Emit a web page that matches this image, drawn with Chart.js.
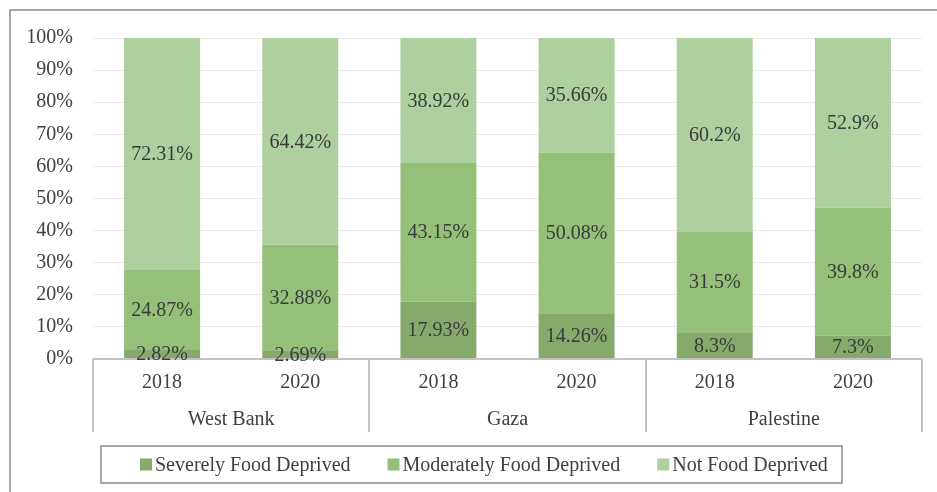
<!DOCTYPE html>
<html>
<head>
<meta charset="utf-8">
<script src="https://cdn.jsdelivr.net/npm/chart.js@4.4.0/dist/chart.umd.min.js"></script>
<style>
  html, body { margin: 0; padding: 0; background: #fff; }
  #wrap { width: 937px; height: 492px; position: relative; }
</style>
</head>
<body>
<div id="wrap"><canvas id="chart" width="937" height="492"></canvas></div>
<script>
// data
const years = ["2018", "2020", "2018", "2020", "2018", "2020"];
const regions = ["West Bank", "Gaza", "Palestine"];
const severely = [2.82, 2.69, 17.93, 14.26, 8.3, 7.3];
const moderately = [24.87, 32.88, 43.15, 50.08, 31.5, 39.8];
const notDeprived = [72.31, 64.42, 38.92, 35.66, 60.2, 52.9];
const seriesNames = ["Severely Food Deprived", "Moderately Food Deprived", "Not Food Deprived"];
const colors = ["#86aa6c", "#94c079", "#aecf9e"];

const FONT = "'Liberation Serif', 'Times New Roman', serif";
const TEXT = "#404040";
const FSIZE = 20;

const overlay = {
  id: "overlay",
  afterDraw(chart) {
    const ctx = chart.ctx;
    const xs = chart.scales.x, ys = chart.scales.y, area = chart.chartArea;
    const y0 = ys.getPixelForValue(0);
    ctx.save();

    // outer frame (only left/top visible)
    ctx.strokeStyle = "#8a8a8a";
    ctx.lineWidth = 1.5;
    ctx.strokeRect(10, 10, 1000, 1000);

    // axis line + group separators
    ctx.strokeStyle = "#c3c3c3";
    ctx.lineWidth = 2;
    ctx.beginPath();
    ctx.moveTo(area.left, y0);
    ctx.lineTo(area.right, y0);
    [-0.5, 1.5, 3.5, 5.5].forEach(v => {
      const px = Math.round(xs.getPixelForValue(v));
      ctx.moveTo(px, y0);
      ctx.lineTo(px, y0 + 73);
    });
    ctx.stroke();

    // region labels
    ctx.fillStyle = TEXT;
    ctx.font = FSIZE + "px " + FONT;
    ctx.textAlign = "center";
    ctx.textBaseline = "middle";
    regions.forEach((r, i) => {
      ctx.fillText(r, xs.getPixelForValue(i * 2 + 0.5), y0 + 61);
    });

    // value labels in the middle of each segment
    ctx.fillStyle = "#3a3a3a";
    chart.data.datasets.forEach((ds, di) => {
      const meta = chart.getDatasetMeta(di);
      meta.data.forEach((bar, i) => {
        const p = bar.getProps(["x", "y", "base"], true);
        ctx.fillText(ds.data[i] + "%", p.x, (p.y + p.base) / 2 + 1);
      });
    });

    // legend in a box
    const box = { left: 101, top: 446, right: 842, bottom: 483 };
    ctx.strokeStyle = "#8a8a8a";
    ctx.lineWidth = 1.5;
    ctx.strokeRect(box.left, box.top, box.right - box.left, box.bottom - box.top);
    const sq = 12, gapTxt = 3, gapItem = 37;
    const widths = seriesNames.map(n => sq + gapTxt + ctx.measureText(n).width);
    let lx = box.left + 39;
    const ly = (box.top + box.bottom) / 2;
    ctx.textAlign = "left";
    seriesNames.forEach((n, i) => {
      ctx.fillStyle = colors[i];
      ctx.fillRect(lx, ly - sq / 2, sq, sq);
      ctx.fillStyle = TEXT;
      ctx.fillText(n, lx + sq + gapTxt, ly + 1);
      lx += widths[i] + gapItem;
    });
    ctx.restore();
  }
};

const ctx = document.getElementById("chart");
new Chart(ctx, {
  type: "bar",
  data: {
    labels: years,
    datasets: [
      { label: seriesNames[0], data: severely, backgroundColor: colors[0] },
      { label: seriesNames[1], data: moderately, backgroundColor: colors[1] },
      { label: seriesNames[2], data: notDeprived, backgroundColor: colors[2] }
    ]
  },
  options: {
    responsive: false,
    animation: false,
    layout: { padding: { top: 38, right: 15, left: 0, bottom: 0 } },
    datasets: { bar: { categoryPercentage: 1, barPercentage: 0.55 } },
    plugins: { legend: { display: false }, tooltip: { enabled: false } },
    scales: {
      x: {
        stacked: true,
        grid: { display: false, drawTicks: false },
        border: { display: false },
        ticks: { color: TEXT, font: { family: FONT, size: FSIZE }, padding: 12, maxRotation: 0 },
        afterFit(s) { s.height = 133; }
      },
      y: {
        stacked: true,
        min: 0,
        max: 100,
        grid: { color: "#ebebeb", drawTicks: false },
        border: { display: false },
        ticks: {
          stepSize: 10,
          color: TEXT,
          font: { family: FONT, size: FSIZE },
          padding: 20,
          callback: v => v + "%"
        },
        afterFit(s) { s.width = 93; }
      }
    }
  },
  plugins: [overlay]
});
</script>
</body>
</html>
